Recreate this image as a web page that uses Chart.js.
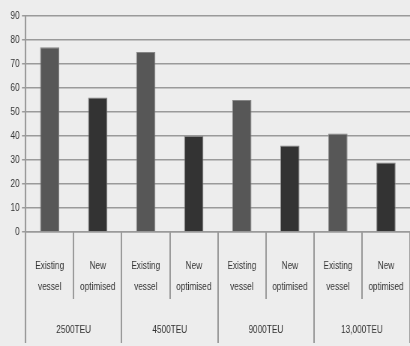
<!DOCTYPE html>
<html>
<head>
<meta charset="utf-8">
<script src="https://cdn.jsdelivr.net/npm/chart.js@4"></script>
<style>
  html, body { margin: 0; padding: 0; background: #ededed; overflow: hidden; }
  /* the source picture is squeezed sideways, so draw wider and squeeze */
  #wrap { width: 547px; height: 346px; transform: scaleX(0.7495); transform-origin: 0 0; }
</style>
</head>
<body>
<div id="wrap"><canvas id="chart"></canvas></div>
<script>
// === DATA ===
const subLabels = [
  ["", "Existing", "vessel"], ["", "New", "optimised"],
  ["", "Existing", "vessel"], ["", "New", "optimised"],
  ["", "Existing", "vessel"], ["", "New", "optimised"],
  ["", "Existing", "vessel"], ["", "New", "optimised"]
];
const groupLabels = ["2500TEU", "4500TEU", "9000TEU", "13,000TEU"];
const values = [77, 56, 75, 40, 55, 36, 41, 29];
const barColors = ["#575757", "#333333", "#575757", "#333333", "#575757", "#333333", "#575757", "#333333"];

const FONT = "'Liberation Sans', Arial, sans-serif";
const lineCol = "#9a9a9a";
const textCol = "#333333";

// separator lines under the x axis, taken from the category scale
const separators = {
  id: "separators",
  afterDraw(chart) {
    const x = chart.scales.x, x2 = chart.scales.x2;
    const ctx = chart.ctx;
    ctx.save();
    ctx.strokeStyle = lineCol;
    ctx.lineWidth = 2;
    for (let i = 0; i <= values.length; i++) {
      const px = Math.round(x.getPixelForValue(i - 0.5));
      const bottom = i % 2 === 0 ? x2.bottom - 3 : x.bottom;
      ctx.beginPath();
      ctx.moveTo(px, x.top);
      ctx.lineTo(px, bottom);
      ctx.stroke();
    }
    ctx.restore();
  }
};

new Chart(document.getElementById("chart"), {
  type: "bar",
  data: {
    labels: subLabels,
    datasets: [{
      data: values,
      backgroundColor: barColors,
      borderColor: "#858585",
      borderWidth: 1,
      barPercentage: 0.8,
      categoryPercentage: 0.5
    }]
  },
  options: {
    responsive: true,
    maintainAspectRatio: false,
    animation: false,
    layout: { padding: { top: 16, right: 0, left: 11, bottom: 0 } },
    plugins: { legend: { display: false }, tooltip: { enabled: false } },
    scales: {
      y: {
        min: 0,
        max: 90,
        ticks: { stepSize: 10, color: textCol, padding: 3, font: { family: FONT, size: 11 } },
        grid: { color: lineCol, lineWidth: 1.5, tickLength: 5 },
        border: { color: lineCol, width: 2 }
      },
      x: {
        ticks: {
          color: textCol, padding: 2, autoSkip: false, maxRotation: 0,
          font: { family: FONT, size: 11, lineHeight: "21px" }
        },
        grid: { display: true, drawOnChartArea: false, drawTicks: false },
        border: { color: lineCol, width: 1.5 }
      },
      x2: {
        type: "category",
        position: "bottom",
        labels: groupLabels.map(g => ["", g]),
        offset: true,
        ticks: {
          color: textCol, padding: 8.5, autoSkip: false, maxRotation: 0,
          font: { family: FONT, size: 11, lineHeight: "15px" }
        },
        grid: { display: false, drawTicks: false },
        border: { display: false }
      }
    }
  },
  plugins: [separators]
});
</script>
</body>
</html>
